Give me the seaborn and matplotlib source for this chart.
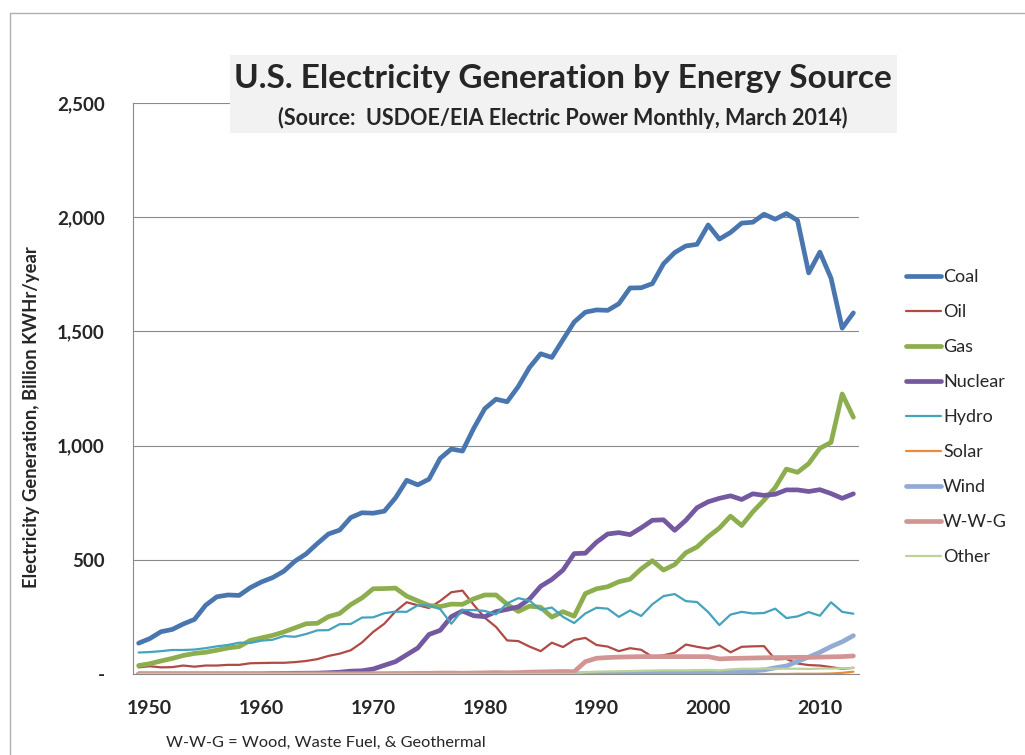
import numpy as np
import pandas as pd
import seaborn as sns
import matplotlib.pyplot as plt
from matplotlib.patches import Rectangle
from matplotlib.ticker import FuncFormatter, MultipleLocator

years = list(range(1949, 2014))

coal = [135, 155, 185, 195, 219, 239, 301, 338, 346, 344,
        378, 403, 422, 450, 494, 526, 571, 613, 630, 685,
        706, 704, 713, 771, 848, 828, 853, 944, 985, 976,
        1075, 1162, 1203, 1192, 1259, 1342, 1402, 1386, 1464, 1541,
        1584, 1594, 1592, 1621, 1690, 1691, 1709, 1796, 1845, 1874,
        1881, 1966, 1904, 1933, 1974, 1978, 2013, 1991, 2016, 1986,
        1756, 1847, 1733, 1514, 1581]
oil = [29, 34, 29, 30, 37, 32, 37, 37, 40, 40,
       47, 48, 49, 49, 52, 57, 65, 79, 89, 104,
       138, 184, 220, 274, 314, 301, 289, 320, 358, 365,
       303, 246, 206, 147, 144, 120, 100, 137, 118, 149,
       158, 127, 120, 100, 113, 106, 75, 82, 93, 129,
       119, 111, 125, 95, 119, 121, 122, 64, 66, 46,
       39, 37, 30, 23, 27]
gas = [37, 45, 57, 68, 81, 90, 95, 104, 114, 120,
       147, 158, 169, 184, 202, 220, 222, 251, 265, 304,
       333, 373, 374, 376, 341, 320, 300, 295, 306, 305,
       329, 346, 346, 305, 274, 297, 292, 249, 273, 253,
       352, 373, 382, 404, 415, 460, 496, 455, 479, 531,
       556, 601, 639, 691, 650, 710, 761, 816, 897, 883,
       921, 988, 1014, 1226, 1124]
nuclear = [0, 0, 0, 0, 0, 0, 0, 0, 0, 0.2,
           0.2, 0.5, 1.7, 2.3, 3.2, 3.3, 3.7, 5.5, 7.7, 12.5,
           13.9, 21.8, 38, 54, 84, 114, 173, 191, 251, 276,
           255, 251, 273, 283, 294, 328, 384, 414, 455, 527,
           529, 577, 613, 619, 610, 640, 673, 675, 629, 673,
           728, 754, 769, 780, 764, 789, 782, 787, 806, 806,
           799, 807, 790, 769, 789]
hydro = [94, 96, 100, 105, 105, 107, 113, 121, 127, 137,
         136, 146, 150, 166, 163, 175, 191, 192, 218, 219,
         247, 248, 266, 273, 272, 301, 300, 284, 220, 280,
         280, 276, 261, 309, 332, 321, 281, 291, 250, 223,
         265, 290, 286, 250, 278, 254, 305, 341, 350, 319,
         315, 271, 214, 260, 272, 265, 267, 286, 245, 252,
         271, 255, 314, 272, 264]
solar = [0] * 59 + [1, 1, 1, 2, 5, 10]
wind = [0] * 40 + [2, 3, 3, 3, 3, 3, 3, 3, 3, 3,
                   5, 6, 7, 10, 11, 14, 18, 27, 35, 55,
                   74, 95, 120, 141, 168]
wwg = [0] * 21 + [1, 1, 2, 2, 3, 3, 4, 4, 3, 4,
                  5, 6, 5, 6, 8, 9, 10, 11, 10,
                  54, 69, 72, 74, 75, 76, 76, 76, 76, 76,
                  76, 76, 66, 68, 69, 70, 71, 72, 72, 73,
                  73, 74, 75, 76, 79]
other = [0] * 40 + [8, 10, 11, 12, 13, 14, 15, 16, 16, 16,
                    17, 18, 16, 20, 23, 23, 24, 23, 23, 23,
                    22, 24, 24, 25, 26]

sources = ["Coal", "Oil", "Gas", "Nuclear", "Hydro", "Solar", "Wind", "W-W-G", "Other"]
colors = ["#4a76b0", "#b04a46", "#8cae4e", "#7458a0", "#45a3be",
          "#e98b3c", "#93abd3", "#d39594", "#b9d39a"]
widths = [3.4, 1.6, 3.4, 3.4, 1.6, 1.6, 3.4, 3.4, 1.6]

df = pd.DataFrame({"Year": years, "Coal": coal, "Oil": oil, "Gas": gas,
                   "Nuclear": nuclear, "Hydro": hydro, "Solar": solar,
                   "Wind": wind, "W-W-G": wwg, "Other": other})
long = df.melt(id_vars="Year", var_name="Source", value_name="Gen")

sns.set_style("white")
plt.rcParams["font.family"] = ["Lato", "DejaVu Sans"]

fig = plt.figure(figsize=(10.25, 7.55), dpi=100)
ax = fig.add_axes([0.1298, 0.1073, 0.7082, 0.7563])

sns.lineplot(data=long, x="Year", y="Gen", hue="Source", size="Source",
             hue_order=sources, size_order=sources,
             palette=dict(zip(sources, colors)), sizes=dict(zip(sources, widths)),
             estimator=None, ax=ax, solid_capstyle="round")

grid_c = "#8a8a8a"
ax.set_xlim(1948.6, 2013.5)
ax.set_ylim(0, 2500)
ax.yaxis.set_major_locator(MultipleLocator(500))
ax.yaxis.set_major_formatter(FuncFormatter(lambda v, p: "-" if v == 0 else f"{int(v):,}"))
ax.set_xticks([1950, 1960, 1970, 1980, 1990, 2000, 2010])
ax.set_xticks(np.arange(1948.5, 2014, 1), minor=True)
ax.tick_params(axis="x", which="major", length=0, pad=19, labelsize=14)
ax.tick_params(axis="x", which="minor", length=7, width=0.8, color=grid_c, direction="out")
ax.tick_params(axis="y", which="major", length=7, width=0.8, color=grid_c, direction="out",
               pad=13.5, labelsize=13.5)
for lab in ax.get_xticklabels() + ax.get_yticklabels():
    lab.set_fontweight("bold")
ax.grid(axis="y", color=grid_c, linewidth=0.8)
ax.set_axisbelow(True)
for s in ["top", "right"]:
    ax.spines[s].set_visible(False)
for s in ["left", "bottom"]:
    ax.spines[s].set_color(grid_c)
    ax.spines[s].set_linewidth(0.8)
ax.set_xlabel("")
ax.set_ylabel("")

sns.move_legend(ax, "center left", bbox_to_anchor=(1.0647, 0.45), frameon=False,
                borderaxespad=0, borderpad=0, handlelength=1.95, handletextpad=0.1,
                labelspacing=1.05, fontsize=13, title=None)

fig.text(0.031, 0.448, "Electricity Generation, Billion KWHr/year", rotation=90,
         ha="center", va="center", fontsize=13.2, fontweight="bold")

fig.add_artist(Rectangle((0.2244, 0.8238), 0.6507, 0.1033, transform=fig.transFigure,
                         facecolor="#f2f2f2", edgecolor="none", zorder=5))
fig.text(0.549, 0.884, "U.S. Electricity Generation by Energy Source", ha="center",
         va="baseline", fontsize=24, fontweight="bold", zorder=6)
fig.text(0.549, 0.834, "(Source:  USDOE/EIA Electric Power Monthly, March 2014)", ha="center",
         va="baseline", fontsize=15.5, fontweight="bold", zorder=6)

fig.text(0.162, 0.0159, "W-W-G = Wood, Waste Fuel, & Geothermal", ha="left", va="center",
         fontsize=11.8)

fig.add_artist(Rectangle((0.0098, -0.2), 1.2, 0.2 + 0.9828, transform=fig.transFigure,
                         facecolor="none", edgecolor="#b0b0b0", linewidth=1, zorder=0))

fig.savefig("out.png", dpi=100, facecolor="w")
